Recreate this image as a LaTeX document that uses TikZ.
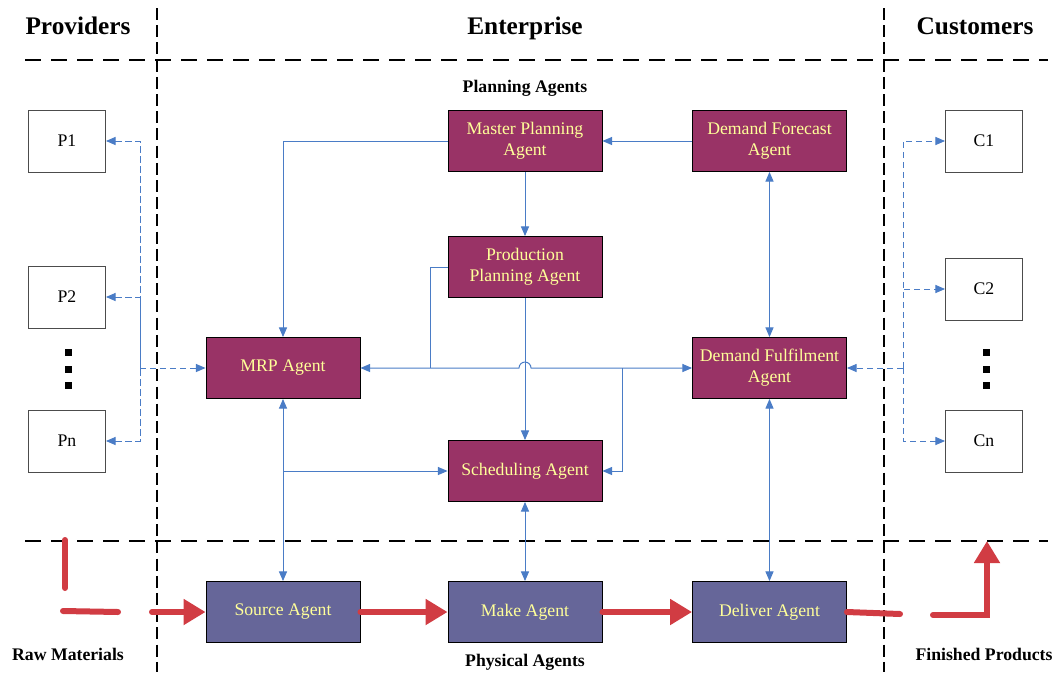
\documentclass[tikz,border=0pt]{standalone}
\usepackage{fontspec}
\setmainfont{Liberation Serif}
\usetikzlibrary{arrows.meta}

\definecolor{plum}{HTML}{993366}
\definecolor{slate}{HTML}{666699}
\definecolor{paleyellow}{HTML}{FFFF99}
\definecolor{linkblue}{HTML}{4A7CC6}
\definecolor{flowred}{HTML}{D13C43}

\tikzset{
  agent/.style={draw=black, fill=plum, text=paleyellow, line width=0.6pt,
    minimum width=3.85cm, minimum height=1.525cm, align=center,
    font=\fontsize{12.6}{15}\selectfont},
  physical/.style={agent, fill=slate},
  party/.style={draw=black!70, fill=white, line width=0.6pt,
    minimum width=1.925cm, minimum height=1.55cm,
    font=\fontsize{12.6}{15}\selectfont},
  link/.style={draw=linkblue, line width=0.7pt,
    >={Triangle[length=2.4mm,width=2mm]}},
  dlink/.style={link, dash pattern=on 0.16cm off 0.09cm},
  flow/.style={draw=flowred, line width=0.15cm, line cap=round,
    >={Triangle[length=5.5mm,width=6.2mm]}},
  hborder/.style={line width=1.3pt, dash pattern=on 0.4cm off 0.25cm},
  vborder/.style={line width=1.3pt, dash pattern=on 0.3cm off 0.13cm},
  zone/.style={anchor=base, font=\fontsize{18}{21}\selectfont\bfseries},
  group/.style={font=\fontsize{12.6}{15}\selectfont\bfseries}
}

\begin{document}
\begin{tikzpicture}[x=0.025cm,y=-0.025cm]

\useasboundingbox (0,0) rectangle (1058,672);

% Zones
\draw[vborder] (157,8) -- (157,672);
\draw[vborder] (884,8) -- (884,672);
\draw[hborder] (25,60) -- (1048,60);
\draw[hborder] (25,541) -- (1048,541);

\node[zone] (tprov) at (78,34) {Providers};
\node[zone] (tent) at (525,34) {Enterprise};
\node[zone] (tcust) at (975,34) {Customers};

\node[group] (tplan) at (525,88) {Planning Agents};
\node[group] (tphys) at (525,662) {Physical Agents};
\node[group] (traw) at (68,654) {Raw Materials};
\node[group] (tfin) at (984,654) {Finished Products};

% Planning agents
\node[agent] (mpa) at (525,141) {Master Planning\\Agent};
\node[agent] (dfa) at (769.5,141) {Demand Forecast\\Agent};
\node[agent] (ppa) at (525,267) {Production\\Planning Agent};
\node[agent] (mrp) at (283,368) {MRP Agent};
\node[agent] (dfu) at (769.5,368) {Demand Fulfilment\\Agent};
\node[agent] (sch) at (525,471) {Scheduling Agent};

% Physical agents
\node[physical] (src) at (283,612) {Source Agent};
\node[physical] (mak) at (525,612) {Make Agent};
\node[physical] (dlv) at (769.5,612) {Deliver Agent};

% Providers and customers
\node[party] (p1) at (67,141) {P1};
\node[party] (p2) at (67,297) {P2};
\node[party] (pn) at (67,441) {Pn};
\node[party] (c1) at (984,141) {C1};
\node[party] (c2) at (984,289) {C2};
\node[party] (cn) at (984,441) {Cn};

\foreach \y in {352,369,385} {
  \fill (64.5,\y-3.5) rectangle ++(7,7);
  \fill (982.5,\y-3.5) rectangle ++(7,7);
}

% Junctions
\coordinate (jpp) at (430,368);
\coordinate (jsc) at (622,368);
\coordinate (jmr) at (283,471);
\coordinate (hop) at (519,368);
\coordinate (pbus) at (140,368);
\coordinate (cbus) at (903,368);

% Information links
\draw[link,->] (mpa.west) -| (mrp.north);
\draw[link,->] (dfa.west) -- (mpa.east);
\draw[link,->] (mpa.south) -- (ppa.north);
\draw[link,<->] (dfa.south) -- (dfu.north);
\draw[link] (ppa.west) -| (jpp);
\draw[link,<->] (mrp.east) -- (hop) arc[start angle=180,end angle=0,radius=0.15cm] -- (dfu.west);
\draw[link,->] (ppa.south) -- (sch.north);
\draw[link,->] (jsc) |- (sch.east);
\draw[link,<->] (mrp.south) -- (src.north);
\draw[link,->] (jmr) -- (sch.west);
\draw[link,<->] (sch.south) -- (mak.north);
\draw[link,<->] (dfu.south) -- (dlv.north);

% Providers
\draw[dlink,->] (pbus) -- (mrp.west);
\draw[dlink,<-] (p1.east) -| (pbus);
\draw[dlink,<-] (p2.east) -| (pbus);
\draw[dlink,<-] (pn.east) -| (pbus);

% Customers
\draw[dlink,->] (cbus) -- (dfu.east);
\draw[dlink,->] (cbus) |- (c1.west);
\draw[dlink,->] (cbus) |- (c2.west);
\draw[dlink,->] (cbus) |- (cn.west);

% Material flow
\coordinate (r1) at (65,540);
\coordinate (r2) at (65,588);
\coordinate (r3) at (63,611);
\coordinate (r4) at (118,612);
\coordinate (r5) at (152,612);
\coordinate (f1) at (900,614);
\coordinate (f2) at (933,615);
\coordinate (f3) at (987,615);
\coordinate (f4) at (987,541);

\draw[flow] (r1) -- (r2);
\draw[flow] (r3) -- (r4);
\draw[flow,->] (r5) -- (src.west);
\draw[flow,->] (src.east) -- (mak.west);
\draw[flow,->] (mak.east) -- (dlv.west);
\draw[flow] (dlv.east) -- (f1);
\draw[flow,->] (f2) -- (f3) -- (f4);

\end{tikzpicture}
\end{document}
